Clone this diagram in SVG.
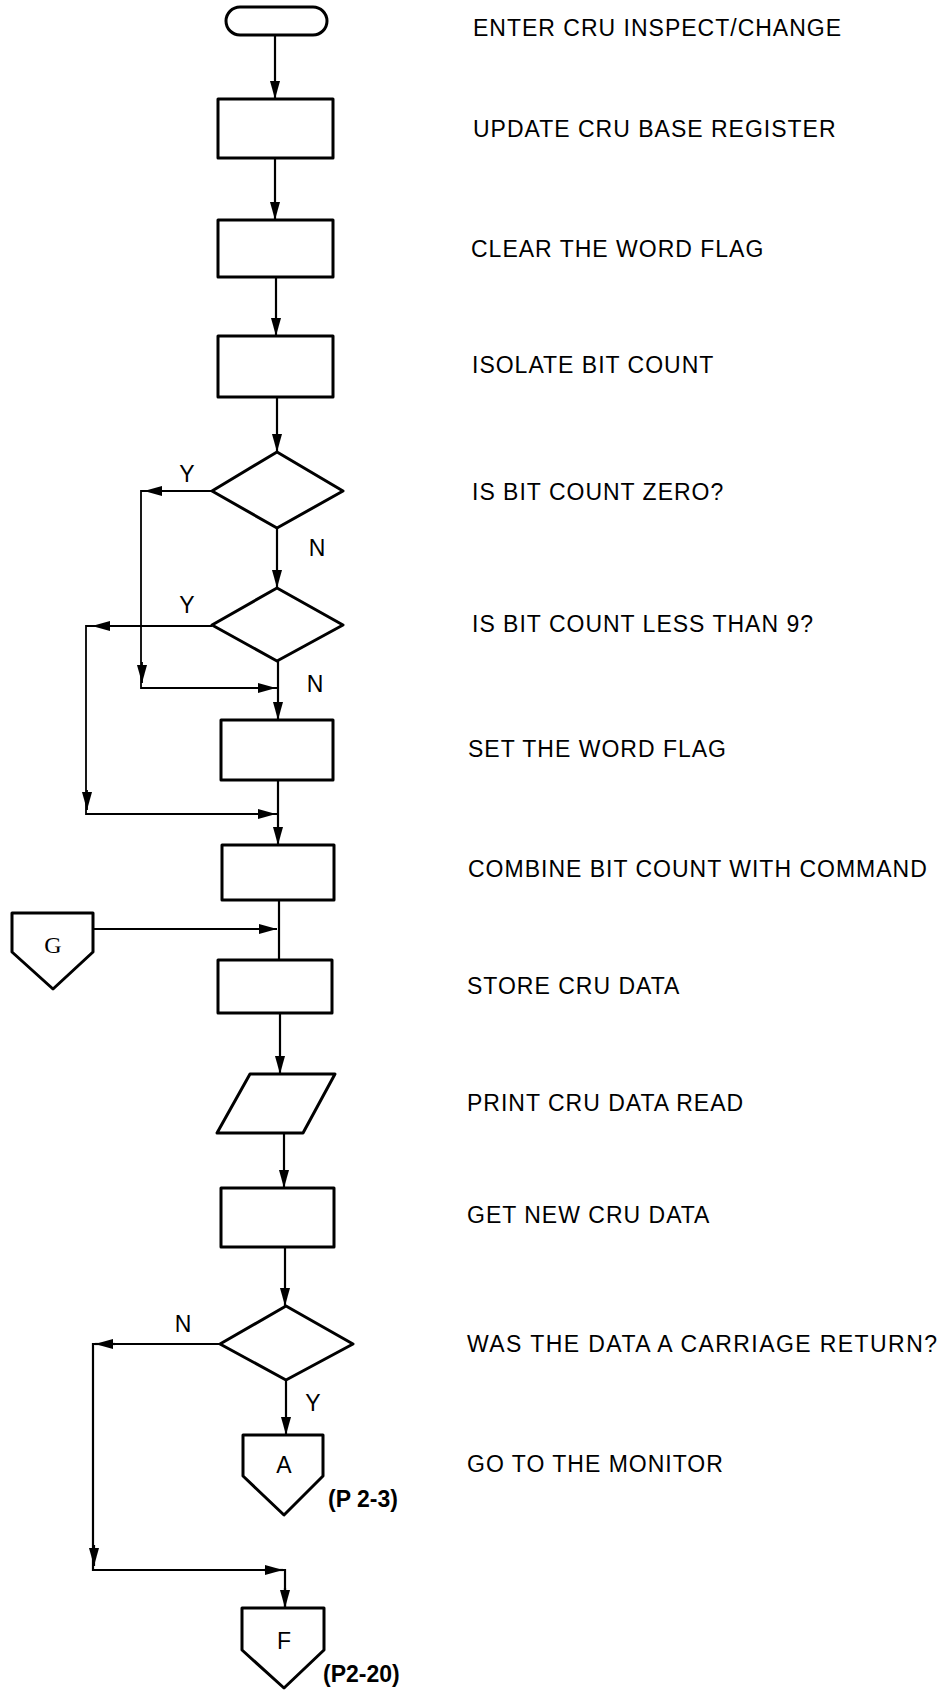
<svg xmlns="http://www.w3.org/2000/svg" width="946" height="1690" viewBox="0 0 946 1690">
  <style>
    .shape { fill: #ffffff; stroke: #000000; stroke-width: 3; stroke-linejoin: round; }
    .flow { fill: none; stroke: #000000; stroke-width: 2.2; }
    .thin { fill: none; stroke: #000000; stroke-width: 1.8; }
    .desc { font-family: "Liberation Sans", Arial, Helvetica, sans-serif; font-size: 23px; letter-spacing: 1px; fill: #000000; }
    .yn { font-family: "Liberation Sans", Arial, Helvetica, sans-serif; font-size: 23px; fill: #000000; text-anchor: middle; }
    .conn { font-family: "Liberation Sans", Arial, Helvetica, sans-serif; font-size: 23px; fill: #000000; text-anchor: middle; }
    .connSerif { font-family: "Liberation Serif", "Times New Roman", serif; font-size: 24px; fill: #000000; text-anchor: middle; }
    .ref { font-family: "Liberation Sans", Arial, Helvetica, sans-serif; font-size: 23px; font-weight: bold; fill: #000000; }
  </style>
  <defs>
    <marker id="ah" markerUnits="userSpaceOnUse" markerWidth="18" markerHeight="10" refX="18" refY="5" orient="auto">
      <path d="M0,0 L18,5 L0,10 z" fill="#000000"/>
    </marker>
  </defs>

  <rect width="946" height="1690" fill="#ffffff"/>

  <!-- connectors -->
  <g id="connectors">
    <path class="flow" d="M275 35 V99" marker-end="url(#ah)"/>
    <path class="flow" d="M275 158 V220" marker-end="url(#ah)"/>
    <path class="flow" d="M276 277 V336" marker-end="url(#ah)"/>
    <path class="flow" d="M277 397 V452" marker-end="url(#ah)"/>
    <path class="flow" d="M277 528 V588" marker-end="url(#ah)"/>
    <path class="flow" d="M278 661 V720" marker-end="url(#ah)"/>

    <!-- Y branch of the zero test, rejoining above SET THE WORD FLAG -->
    <path class="thin" d="M212 491 H141 V688 H277"/>
    <path class="thin" d="M162 491 H144" marker-end="url(#ah)"/>
    <path class="thin" d="M142 662 V683" marker-end="url(#ah)"/>
    <path class="thin" d="M256 688 H276" marker-end="url(#ah)"/>

    <!-- Y branch of the less-than-9 test, rejoining above COMBINE -->
    <path class="thin" d="M212 626 H86 V814 H278"/>
    <path class="thin" d="M110 626 H92" marker-end="url(#ah)"/>
    <path class="thin" d="M87 790 V810" marker-end="url(#ah)"/>
    <path class="thin" d="M256 814 H276" marker-end="url(#ah)"/>

    <path class="flow" d="M278 780 V845" marker-end="url(#ah)"/>
    <path class="flow" d="M279 900 V960"/>
    <path class="thin" d="M93 929 H277" marker-end="url(#ah)"/>
    <path class="flow" d="M280 1013 V1074" marker-end="url(#ah)"/>
    <path class="flow" d="M284 1133 V1188" marker-end="url(#ah)"/>
    <path class="flow" d="M285 1247 V1306" marker-end="url(#ah)"/>
    <path class="flow" d="M286 1380 V1435" marker-end="url(#ah)"/>

    <!-- N branch of the carriage-return test to connector F -->
    <path class="flow" d="M220 1344 H93 V1570 H285 V1608"/>
    <path class="flow" d="M115 1344 H95" marker-end="url(#ah)"/>
    <path class="flow" d="M94 1545 V1566" marker-end="url(#ah)"/>
    <path class="flow" d="M264 1570 H283" marker-end="url(#ah)"/>
    <path class="flow" d="M285 1588 V1608" marker-end="url(#ah)"/>
  </g>

  <!-- nodes -->
  <g id="enter">
    <rect class="shape" x="226" y="7" width="101" height="28" rx="14" ry="14"/>
    <text class="desc" x="473" y="36">ENTER CRU INSPECT/CHANGE</text>
  </g>
  <g id="update-base">
    <rect class="shape" x="218" y="99" width="115" height="59"/>
    <text class="desc" x="473" y="137">UPDATE CRU BASE REGISTER</text>
  </g>
  <g id="clear-flag">
    <rect class="shape" x="218" y="220" width="115" height="57"/>
    <text class="desc" x="471" y="257">CLEAR THE WORD FLAG</text>
  </g>
  <g id="isolate-count">
    <rect class="shape" x="218" y="336" width="115" height="61"/>
    <text class="desc" x="472" y="373">ISOLATE BIT COUNT</text>
  </g>
  <g id="count-zero">
    <polygon class="shape" points="277,452 343,491 277,528 212,491"/>
    <text class="yn" x="187" y="482">Y</text>
    <text class="yn" x="317" y="556">N</text>
    <text class="desc" x="472" y="500">IS BIT COUNT ZERO?</text>
  </g>
  <g id="count-less-9">
    <polygon class="shape" points="277,588 343,625 277,661 212,625"/>
    <text class="yn" x="187" y="613">Y</text>
    <text class="yn" x="315" y="692">N</text>
    <text class="desc" x="472" y="632">IS BIT COUNT LESS THAN 9?</text>
  </g>
  <g id="set-flag">
    <rect class="shape" x="221" y="720" width="112" height="60"/>
    <text class="desc" x="468" y="757">SET THE WORD FLAG</text>
  </g>
  <g id="combine">
    <rect class="shape" x="222" y="845" width="112" height="55"/>
    <text class="desc" x="468" y="877">COMBINE BIT COUNT WITH COMMAND</text>
  </g>
  <g id="connector-g">
    <polygon class="shape" points="12,913 93,913 93,952 53,989 12,952"/>
    <text class="connSerif" x="53" y="953">G</text>
  </g>
  <g id="store-data">
    <rect class="shape" x="218" y="960" width="114" height="53"/>
    <text class="desc" x="467" y="994">STORE CRU DATA</text>
  </g>
  <g id="print-data">
    <polygon class="shape" points="250,1074 335,1074 303,1133 217,1133"/>
    <text class="desc" x="467" y="1111">PRINT CRU DATA READ</text>
  </g>
  <g id="get-data">
    <rect class="shape" x="221" y="1188" width="113" height="59"/>
    <text class="desc" x="467" y="1223">GET NEW CRU DATA</text>
  </g>
  <g id="carriage-return">
    <polygon class="shape" points="286,1306 353,1344 286,1380 220,1344"/>
    <text class="yn" x="183" y="1332">N</text>
    <text class="yn" x="313" y="1411">Y</text>
    <text class="desc" x="467" y="1352" textLength="471" lengthAdjust="spacing">WAS THE DATA A CARRIAGE RETURN?</text>
  </g>
  <g id="connector-a">
    <polygon class="shape" points="243,1435 323,1435 323,1476 284,1515 243,1476"/>
    <text class="conn" x="284" y="1473">A</text>
    <text class="ref" x="328" y="1507">(P 2-3)</text>
    <text class="desc" x="467" y="1472">GO TO THE MONITOR</text>
  </g>
  <g id="connector-f">
    <polygon class="shape" points="242,1608 324,1608 324,1650 284,1688 242,1650"/>
    <text class="conn" x="284" y="1649">F</text>
    <text class="ref" x="323" y="1682">(P2-20)</text>
  </g>
</svg>
